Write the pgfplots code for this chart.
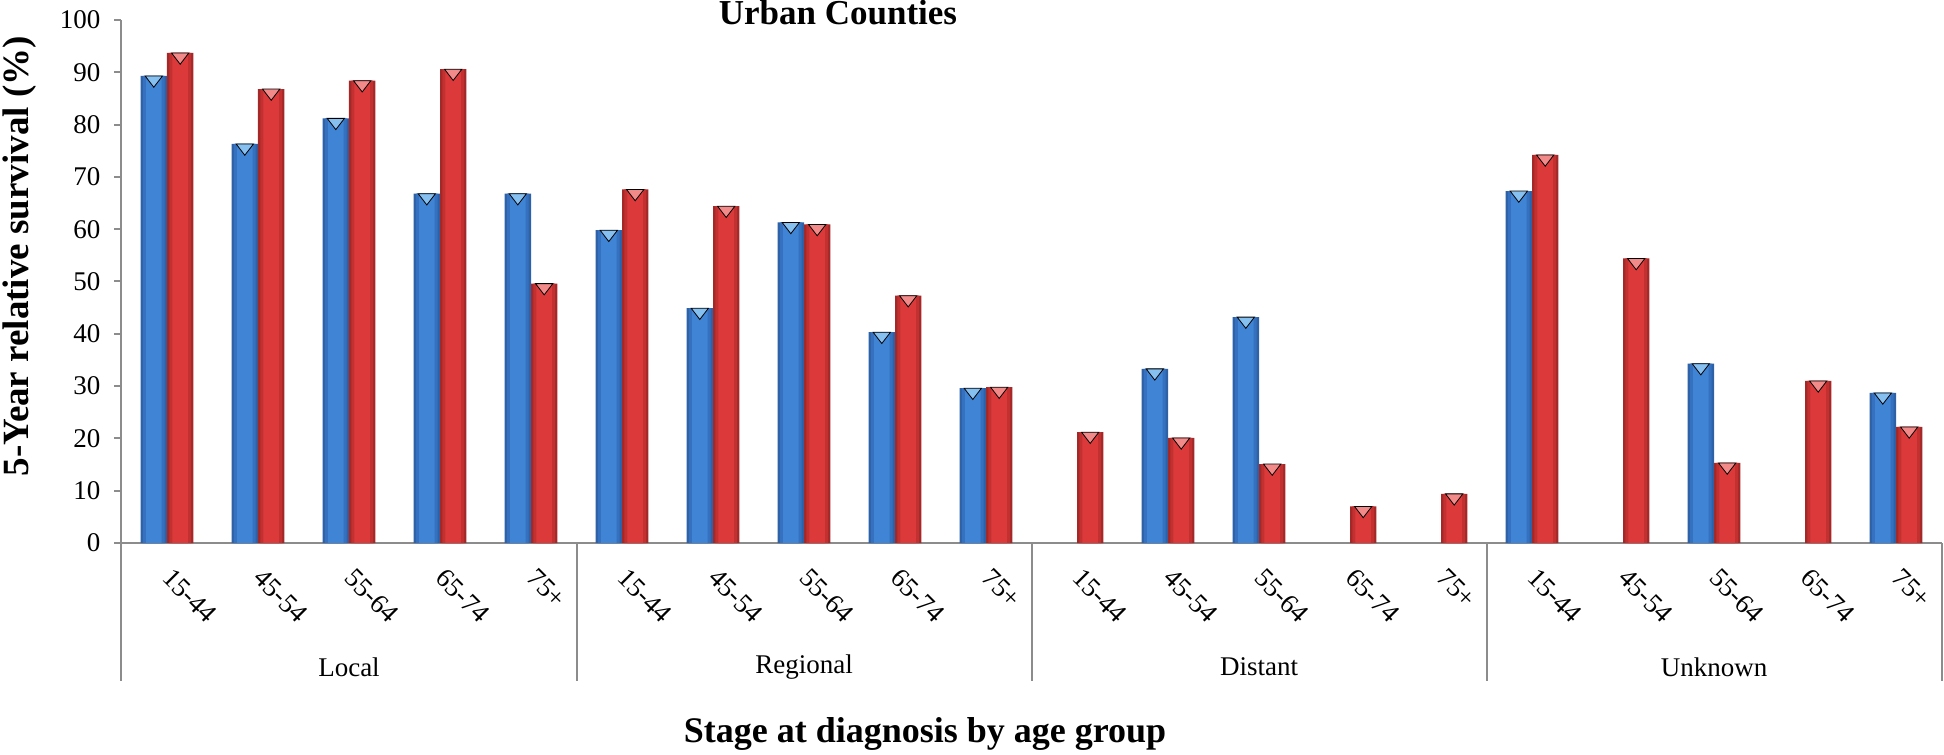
\documentclass[border=0pt]{standalone}
\usepackage{fontspec}
\setmainfont{Liberation Serif}
\usepackage{pgfplots}
\pgfplotsset{compat=1.18}
\usepackage{pgfplotstable}

\definecolor{axisgray}{HTML}{8C8C8C}
\definecolor{bluedark}{HTML}{2D61A8}
\definecolor{bluemid}{HTML}{3571BF}
\definecolor{bluemain}{HTML}{3F84D5}
\definecolor{bluelight}{HTML}{86C0F0}
\definecolor{reddark}{HTML}{A52828}
\definecolor{redmid}{HTML}{C23030}
\definecolor{redmain}{HTML}{DC3A3A}
\definecolor{redlight}{HTML}{F28A8A}

% x = category index (0..19), y = 5-year relative survival (%)
\pgfplotstableread{
x y
0 89.3
1 76.3
2 81.2
3 66.8
4 66.8
5 59.8
6 44.9
7 61.3
8 40.3
9 29.6
11 33.3
12 43.2
15 67.3
17 34.3
19 28.7
}\bluedata

\pgfplotstableread{
x y
0 93.7
1 86.8
2 88.4
3 90.6
4 49.6
5 67.6
6 64.4
7 60.9
8 47.3
9 29.8
10 21.2
11 20.1
12 15.1
13 7.0
14 9.4
15 74.2
16 54.4
17 15.3
18 31.0
19 22.2
}\reddata

\begin{document}
\begin{tikzpicture}
\begin{axis}[
  at={(0,0)}, anchor=south west,
  scale only axis, width=910pt, height=261.5pt,
  xmin=-0.5, xmax=19.5, ymin=0, ymax=100,
  clip=false,
  axis x line=bottom, axis y line=left,
  axis line style={-, draw=axisgray, line width=1pt},
  ytick={0,10,...,100},
  ytick style={draw=axisgray, line width=1pt},
  tick align=outside, major tick length=3.5pt,
  xtick={0,...,19},
  xtick style={draw=none},
  xticklabels={15-44,45-54,55-64,65-74,75+,15-44,45-54,55-64,65-74,75+,15-44,45-54,55-64,65-74,75+,15-44,45-54,55-64,65-74,75+},
  /pgf/number format/assume math mode=true,
  yticklabel style={font=\fontsize{13.5}{16}\selectfont, xshift=-3.5pt},
  xticklabel style={font=\fontsize{13.5}{16}\selectfont, xshift=3.5pt, yshift=-3.5pt, rotate=-45, anchor=north west},
  xlabel={Stage at diagnosis by age group},
  xlabel style={font=\fontsize{18}{22}\selectfont\bfseries, at={(axis description cs:0.4415,-0.3824)}, anchor=base},
  ylabel={5-Year relative survival (\%)},
  ylabel style={font=\fontsize{18.5}{22}\selectfont\bfseries, at={(axis description cs:-0.0558,0.548)}, anchor=center, rotate=0},
]
% blue series (layered for a shaded look)
\addplot[ybar, bar width=0.29, bar shift=0, draw=none, fill=bluedark]
  table[x expr=\thisrow{x}-0.145, y=y] {\bluedata};
\addplot[ybar, bar width=0.24, bar shift=0, draw=none, fill=bluemid]
  table[x expr=\thisrow{x}-0.145, y=y] {\bluedata};
\addplot[ybar, bar width=0.17, bar shift=0, draw=none, fill=bluemain]
  table[x expr=\thisrow{x}-0.145, y=y] {\bluedata};
\addplot[only marks, mark=triangle*, mark size=5pt,
  mark options={draw=none, fill=bluelight, yshift=-1.9pt, yscale=0.75, rotate=180}]
  table[x expr=\thisrow{x}-0.145, y=y] {\bluedata};
% red series
\addplot[ybar, bar width=0.29, bar shift=0, draw=none, fill=reddark]
  table[x expr=\thisrow{x}+0.145, y=y] {\reddata};
\addplot[ybar, bar width=0.24, bar shift=0, draw=none, fill=redmid]
  table[x expr=\thisrow{x}+0.145, y=y] {\reddata};
\addplot[ybar, bar width=0.17, bar shift=0, draw=none, fill=redmain]
  table[x expr=\thisrow{x}+0.145, y=y] {\reddata};
\addplot[only marks, mark=triangle*, mark size=5pt,
  mark options={draw=none, fill=redlight, yshift=-1.9pt, yscale=0.75, rotate=180}]
  table[x expr=\thisrow{x}+0.145, y=y] {\reddata};
% group separators and labels
\pgfplotsinvokeforeach{-0.5,4.5,9.5,14.5,19.5}{
  \draw[axisgray, line width=1pt] (axis cs:#1,0) -- ([yshift=-69pt]axis cs:#1,0);
}
\node[font=\fontsize{13.5}{16}\selectfont] at ([yshift=-62pt]axis cs:2,0) {Local};
\node[font=\fontsize{13.5}{16}\selectfont] at ([yshift=-62pt]axis cs:7,0) {Regional};
\node[font=\fontsize{13.5}{16}\selectfont] at ([yshift=-62pt]axis cs:12,0) {Distant};
\node[font=\fontsize{13.5}{16}\selectfont] at ([yshift=-62pt]axis cs:17,0) {Unknown};
\end{axis}
\node[font=\fontsize{17.5}{21}\selectfont\bfseries, anchor=base] at (358.25pt,259pt) {Urban Counties};
\pgfresetboundingbox
\path (-60.75pt,-106pt) rectangle (911.25pt,271.5pt);
\end{tikzpicture}
\end{document}
